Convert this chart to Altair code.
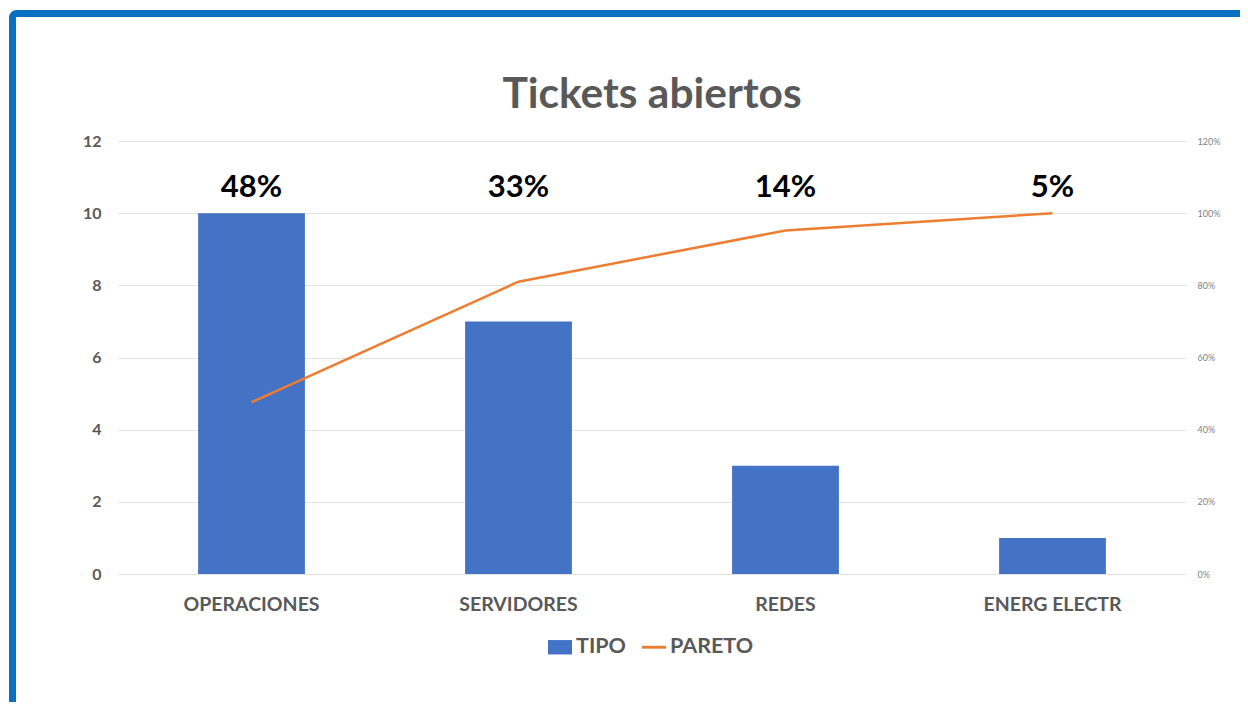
import altair as alt
import pandas as pd

categorias = ["OPERACIONES", "SERVIDORES", "REDES", "ENERG ELECTR"]
tickets = [10, 7, 3, 1]
pareto = [0.476, 0.81, 0.952, 1.0]
etiquetas = ["48%", "33%", "14%", "5%"]
series = ["TIPO", "PARETO"]
colores = ["#4472C4", "#ED7D31"]

df = pd.DataFrame({"cat": categorias, "tickets": tickets, "pareto": pareto, "lab": etiquetas})
leg_df = pd.DataFrame({"serie": series})
frame_df = pd.DataFrame({"a": [0]})

FONT = "Lato"
GRAY = "#595959"

x_enc = alt.X(
    "cat:N", sort=categorias,
    scale=alt.Scale(paddingInner=0.6, paddingOuter=0.3),
    axis=alt.Axis(title=None, labelAngle=0, labelFont=FONT, labelFontSize=19.5,
                  labelFontWeight="bold", labelColor=GRAY, labelPadding=21,
                  ticks=False, domain=False, grid=False),
)

y_left = alt.Y(
    "tickets:Q",
    scale=alt.Scale(domain=[0, 12]),
    axis=alt.Axis(title=None, values=[0, 2, 4, 6, 8, 10, 12], labelFont=FONT,
                  labelFontSize=16, labelFontWeight="bold", labelColor=GRAY,
                  labelPadding=17, ticks=False, domain=False, grid=True,
                  gridColor="#e3e3e3", gridWidth=1),
)

bars = alt.Chart(df).mark_bar(color=colores[0]).encode(x=x_enc, y=y_left)

texts = alt.Chart(df).mark_text(
    font=FONT, fontSize=31, fontWeight="bold", color="#000000", baseline="middle"
).encode(x=alt.X("cat:N", sort=categorias), y=alt.datum(10.7), text="lab:N")

left = alt.layer(bars, texts)

line = alt.Chart(df).mark_line(color=colores[1], strokeWidth=2.5).encode(
    x=alt.X("cat:N", sort=categorias),
    y=alt.Y("pareto:Q", scale=alt.Scale(domain=[0, 1.2]),
            axis=alt.Axis(title=None, orient="right", format=".0%",
                          values=[0, 0.2, 0.4, 0.6, 0.8, 1.0, 1.2],
                          labelFont=FONT, labelFontSize=9, labelColor="#7f7f7f",
                          labelPadding=11, ticks=False, domain=False, grid=False)),
)

sq = "M-1,-0.6H1V0.6H-1Z"
ln = "M-1,-0.12H1V0.12H-1Z"
leg = alt.Legend(orient="none", legendX=430, legendY=494, direction="horizontal")
legend_layer = alt.Chart(leg_df).mark_point(filled=True, opacity=0).encode(
    color=alt.Color("serie:N", scale=alt.Scale(domain=series, range=colores), title=None, legend=leg),
    shape=alt.Shape("serie:N", scale=alt.Scale(domain=series, range=[sq, ln]), title=None, legend=leg),
)

frame = alt.Chart(frame_df).mark_rect(
    filled=False, stroke="#0A70C2", strokeWidth=7, cornerRadius=4
).encode(x=alt.value(-105.5), y=alt.value(-127.5), x2=alt.value(1600), y2=alt.value(1000))

chart = alt.layer(left, line, legend_layer, frame).resolve_scale(y="independent").properties(
    width=1068, height=433,
    title=alt.TitleParams("Tickets abiertos", font=FONT, fontSize=42.5, fontWeight="bold",
                          color=GRAY, anchor="middle", offset=22, dy=128),
    autosize=alt.AutoSizeParams(type="none"),
    padding={"left": 110, "top": 133, "right": 54, "bottom": 128},
).configure_view(stroke=None).configure_legend(
    symbolOpacity=1, symbolSize=576, labelFont=FONT, labelFontSize=21.5,
    labelFontWeight="bold", labelColor=GRAY, labelOffset=4, columnPadding=16,
    padding=0, symbolStrokeWidth=0,
)

chart.save("out.html", embed_options={"renderer": "svg", "actions": False})
